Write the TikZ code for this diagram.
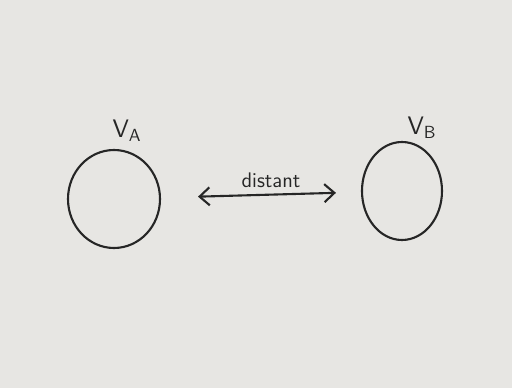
\documentclass[tikz,border=0pt]{standalone}
\definecolor{paper}{RGB}{231,230,227}
\definecolor{pen}{RGB}{38,38,38}
\usepackage{tikz}
\usetikzlibrary{arrows.meta,positioning,calc,shapes.geometric}

\begin{document}
\begin{tikzpicture}[
      blob/.style={ellipse, draw=pen, line width=1.2pt, inner sep=0pt},
      tag/.style={text=pen, inner sep=0pt, font=\Large\sffamily},
      arr/.style={{Straight Barb[length=2mm,width=3.6mm]}-{Straight Barb[length=2mm,width=3.6mm]},
                  line width=1.2pt, pen}
    ]
    \fill[paper] (0,0) rectangle (10.24,7.76);
    \useasboundingbox (0,0) rectangle (10.24,7.76);
    % the two values
    \node[blob, minimum width=1.84cm, minimum height=1.96cm] (va) at (2.28,3.78) {};
    \node[blob, minimum width=1.60cm, minimum height=1.96cm] (vb) at (8.04,3.94) {};
    \node[tag, above=0.14cm of va, xshift=0.26cm] (la) {V\textsubscript{A}};
    \node[tag, above=0.04cm of vb, xshift=0.40cm] (lb) {V\textsubscript{B}};
    \draw[arr, shorten <=0.74cm, shorten >=0.5cm] (va) -- (vb);
    \node[tag, font=\large\sffamily] (dist) at ($(va)!0.5!(vb)+(0.26,0.3)$) {distant};
\end{tikzpicture}
\end{document}
